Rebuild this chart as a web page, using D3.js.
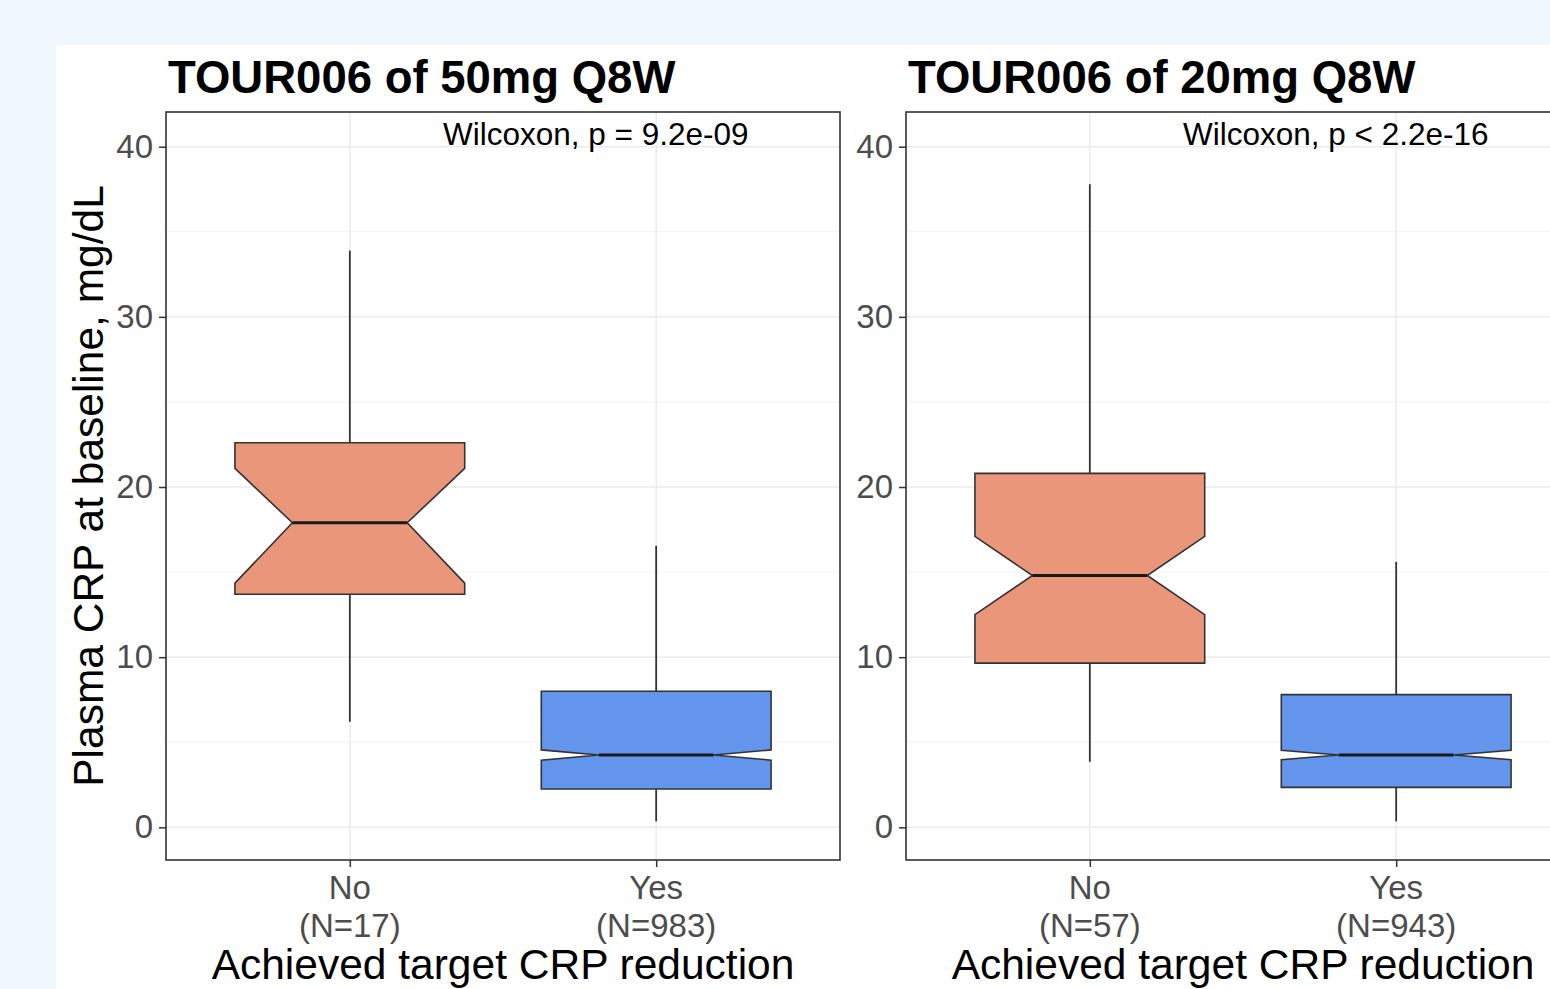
<!DOCTYPE html>
<html>
<head>
<meta charset="utf-8">
<script src="https://cdn.jsdelivr.net/npm/d3@7"></script>
<style>
  html, body { margin: 0; padding: 0; background: #f0f8fd; }
  svg { display: block; }
  text { font-family: "Liberation Sans", Arial, Helvetica, sans-serif; }
</style>
</head>
<body>
<svg id="chart" width="1550" height="989"></svg>
<script>
// ---------- data ----------
const categories = ["No", "Yes"];
const panelTitles = ["TOUR006 of 50mg Q8W", "TOUR006 of 20mg Q8W"];
const pLabels = ["Wilcoxon, p = 9.2e-09", "Wilcoxon, p < 2.2e-16"];
const nLabels = [["(N=17)", "(N=983)"], ["(N=57)", "(N=943)"]];
const whiskerLow  = [[6.2, 0.35], [3.85, 0.35]];
const q1Values    = [[13.7, 2.25], [9.65, 2.35]];
const medianValues= [[17.9, 4.25], [14.8, 4.25]];
const q3Values    = [[22.6, 8.0], [20.8, 7.8]];
const whiskerHigh = [[33.9, 16.55], [37.8, 15.6]];
const notchLow    = [[14.35, 3.95], [12.5, 3.97]];
const notchHigh   = [[21.1, 4.55], [17.1, 4.53]];
const yTicks = [0, 10, 20, 30, 40];
const yMinorTicks = [5, 15, 25, 35];
const fillColors = ["#e9967a", "#6495ed"];
const xTitle = "Achieved target CRP reduction";
const yTitle = "Plasma CRP at baseline, mg/dL";

// ---------- layout ----------
const svg = d3.select("#chart");
svg.append("rect").attr("x", 56).attr("y", 45).attr("width", 1550 - 56).attr("height", 989 - 45).attr("fill", "#ffffff");

const panelLefts = [166, 906];
const panelWidth = 674;
const panelTop = 112, panelBottom = 860;

const y = d3.scaleLinear().domain([-1.92, 42.04]).range([panelBottom, panelTop]);

panelLefts.forEach((left, pi) => {
  const x = d3.scalePoint().domain(categories).range([left, left + panelWidth]).padding(0.6);
  const step = x.step();
  const boxW = step * 0.75;
  const g = svg.append("g");

  // grid - minor
  g.selectAll(".ymin").data(yMinorTicks).join("line")
    .attr("x1", left).attr("x2", left + panelWidth)
    .attr("y1", d => y(d)).attr("y2", d => y(d))
    .attr("stroke", "#f2f2f2").attr("stroke-width", 1);
  // grid - major
  g.selectAll(".ymaj").data(yTicks).join("line")
    .attr("x1", left).attr("x2", left + panelWidth)
    .attr("y1", d => y(d)).attr("y2", d => y(d))
    .attr("stroke", "#ebebeb").attr("stroke-width", 1.5);
  g.selectAll(".xmaj").data(categories).join("line")
    .attr("x1", d => x(d)).attr("x2", d => x(d))
    .attr("y1", panelTop).attr("y2", panelBottom)
    .attr("stroke", "#ebebeb").attr("stroke-width", 1.5);

  categories.forEach((c, ci) => {
    const cx = x(c);
    // whiskers
    g.append("line").attr("x1", cx).attr("x2", cx)
      .attr("y1", y(q3Values[pi][ci])).attr("y2", y(whiskerHigh[pi][ci]))
      .attr("stroke", "#333333").attr("stroke-width", 1.8);
    g.append("line").attr("x1", cx).attr("x2", cx)
      .attr("y1", y(q1Values[pi][ci])).attr("y2", y(whiskerLow[pi][ci]))
      .attr("stroke", "#333333").attr("stroke-width", 1.8);

    // notched box
    const xmin = cx - boxW / 2, xmax = cx + boxW / 2;
    const inset = boxW / 4;
    const pts = [
      [xmin, y(q1Values[pi][ci])],
      [xmin, y(notchLow[pi][ci])],
      [xmin + inset, y(medianValues[pi][ci])],
      [xmin, y(notchHigh[pi][ci])],
      [xmin, y(q3Values[pi][ci])],
      [xmax, y(q3Values[pi][ci])],
      [xmax, y(notchHigh[pi][ci])],
      [xmax - inset, y(medianValues[pi][ci])],
      [xmax, y(notchLow[pi][ci])],
      [xmax, y(q1Values[pi][ci])]
    ];
    g.append("path").attr("d", d3.line()(pts) + "Z")
      .attr("fill", fillColors[ci]).attr("stroke", "#333333").attr("stroke-width", 1.6)
      .attr("stroke-linejoin", "miter");
    g.append("line").attr("x1", xmin + inset).attr("x2", xmax - inset)
      .attr("y1", y(medianValues[pi][ci])).attr("y2", y(medianValues[pi][ci]))
      .attr("stroke", "#1a1a1a").attr("stroke-width", 2.8);
  });

  // panel border
  g.append("rect").attr("x", left).attr("y", panelTop)
    .attr("width", panelWidth).attr("height", panelBottom - panelTop)
    .attr("fill", "none").attr("stroke", "#333333").attr("stroke-width", 1.6);

  // y axis
  const yAxis = d3.axisLeft(y).tickValues(yTicks).tickSize(7).tickPadding(6).tickFormat(d3.format("d"));
  const ya = g.append("g").attr("transform", `translate(${left},0)`).call(yAxis);
  ya.select(".domain").remove();
  ya.selectAll(".tick line").attr("stroke", "#333333").attr("stroke-width", 1.5);
  ya.selectAll(".tick text").attr("fill", "#4d4d4d")
    .style("font-size", "33px").style("font-family", '"Liberation Sans", Arial, sans-serif');

  // x axis
  const xAxis = d3.axisBottom(x).tickSize(7).tickPadding(4);
  const xa = g.append("g").attr("transform", `translate(0,${panelBottom})`).call(xAxis);
  xa.select(".domain").remove();
  xa.selectAll(".tick line").attr("stroke", "#333333").attr("stroke-width", 1.5);
  xa.selectAll(".tick text").remove();
  categories.forEach((c, ci) => {
    g.append("text").attr("x", x(c)).attr("y", 899).attr("text-anchor", "middle")
      .attr("fill", "#4d4d4d").style("font-size", "33px").text(c);
    g.append("text").attr("x", x(c)).attr("y", 937).attr("text-anchor", "middle")
      .attr("fill", "#4d4d4d").style("font-size", "33px").text(nLabels[pi][ci]);
  });

  // x title
  g.append("text").attr("x", left + panelWidth / 2).attr("y", 979).attr("text-anchor", "middle")
    .attr("fill", "#000").style("font-size", "42.5px").text(xTitle);

  // panel title
  g.append("text").attr("x", left + 2).attr("y", 93)
    .attr("fill", "#000").style("font-size", "45.5px").style("font-weight", "bold").text(panelTitles[pi]);

  // p-value label
  g.append("text").attr("x", left + 277).attr("y", y(40) - 2)
    .attr("fill", "#000").style("font-size", "31.5px").text(pLabels[pi]);
});

// y title
svg.append("text")
  .attr("transform", `translate(103,${(panelTop + panelBottom) / 2}) rotate(-90)`)
  .attr("text-anchor", "middle").attr("fill", "#000")
  .style("font-size", "42.5px").text(yTitle);
</script>
</body>
</html>
